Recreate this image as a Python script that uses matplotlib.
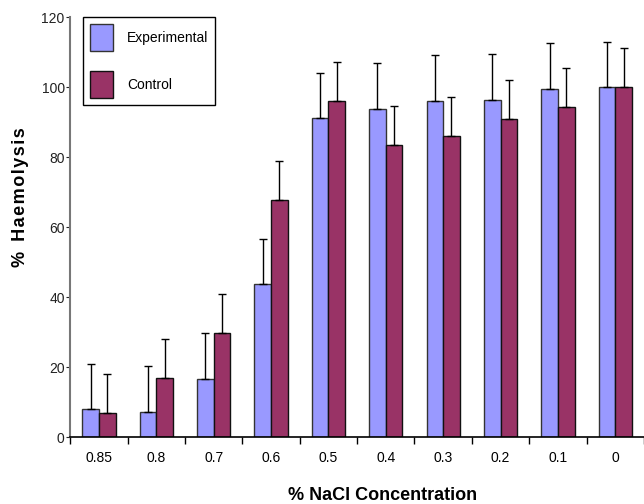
import numpy as np
import matplotlib
matplotlib.use("Agg")
import matplotlib.pyplot as plt

plt.rcParams['font.family'] = ['Liberation Sans', 'DejaVu Sans']

concentrations = ['0.85', '0.8', '0.7', '0.6', '0.5', '0.4', '0.3', '0.2', '0.1', '0']
experimental = [8.0, 7.4, 16.7, 43.8, 91.1, 93.8, 96.1, 96.4, 99.5, 100.0]
control = [7.0, 16.9, 29.8, 67.8, 96.1, 83.5, 86.0, 90.9, 94.4, 100.0]
experimental_err = [13.0] * 10
control_err = [11.2] * 10

exp_color = '#9999FF'
ctrl_color = '#993366'

fig = plt.figure(figsize=(6.44, 5.04), dpi=100)
ax = fig.add_axes([0.109, 0.132, 0.891, 0.834])

x = np.arange(len(concentrations))
w = 0.29
err_style = dict(ecolor='black', elinewidth=1.0, capsize=3, capthick=1.0)

ax.bar(x - w / 2, experimental, w, color=exp_color, edgecolor='#333333',
       linewidth=1.0, label='Experimental',
       yerr=[np.zeros(10), experimental_err], error_kw=err_style)
ax.bar(x + w / 2, control, w, color=ctrl_color, edgecolor='#111111',
       linewidth=1.0, label='Control',
       yerr=[np.zeros(10), control_err], error_kw=err_style)

ax.set_xlim(-0.5, len(concentrations) - 0.5)
ax.set_ylim(0, 120)
ax.set_yticks(range(0, 121, 20))
ax.tick_params(axis='y', direction='out', length=3, width=0.8, labelsize=10,
               pad=1, colors='#222222')

# x ticks between categories, labels centred
ax.set_xticks(np.arange(-0.5, len(concentrations), 1.0))
ax.set_xticklabels([])
ax.set_xticks(x, minor=True)
ax.set_xticklabels(concentrations, minor=True, fontsize=10)
ax.tick_params(axis='x', which='major', direction='out', length=5, width=1.0)
ax.tick_params(axis='x', which='minor', length=0, pad=10)

for side in ['top', 'right']:
    ax.spines[side].set_visible(False)
ax.spines['left'].set_color('#777777')
ax.spines['left'].set_linewidth(1.5)
ax.spines['bottom'].set_color('black')
ax.spines['bottom'].set_linewidth(1.2)

ax.set_ylabel('%  H\u200aa\u200ae\u200am\u200ao\u200al\u200ay\u200as\u200ai\u200as',
              fontsize=13, fontweight='bold')
ax.yaxis.set_label_coords(-0.072, 0.571)
ax.set_xlabel('% NaCl Concentration', fontsize=13, fontweight='bold')
ax.xaxis.set_label_coords(0.545, -0.118)

leg = ax.legend(loc='upper left', bbox_to_anchor=(0.0226, 1.0), fontsize=10,
                handlelength=1.65, handleheight=2.6, labelspacing=1.44,
                handletextpad=1.0, borderpad=0.5, borderaxespad=0,
                fancybox=False, edgecolor='black', framealpha=1)
leg.get_frame().set_linewidth(1.0)

fig.savefig('out.png', dpi=100)
